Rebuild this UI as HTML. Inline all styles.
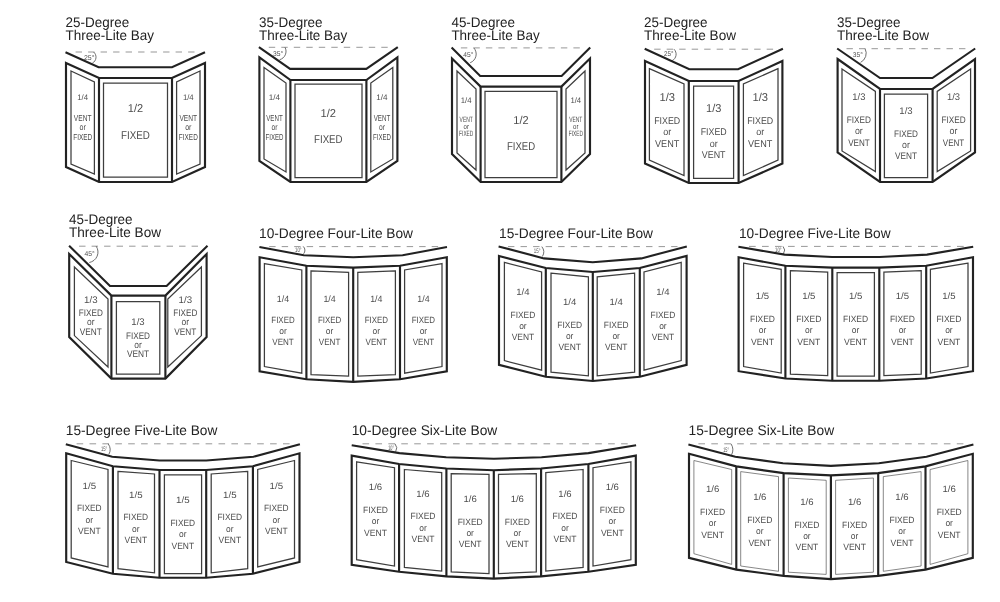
<!DOCTYPE html>
<html lang="en"><head><meta charset="utf-8"><title>Bay and Bow Window Configurations</title>
<style>
html,body{margin:0;padding:0;background:#fff;}
body{width:1000px;height:602px;overflow:hidden;}
svg{display:block;will-change:transform;text-rendering:geometricPrecision;font-family:"Liberation Sans",Arial,Helvetica,sans-serif;}
</style></head><body>
<svg width="1000" height="602" viewBox="0 0 1000 602">
<rect width="1000" height="602" fill="#ffffff"/>
<text x="65.6" y="26.5" font-size="14" fill="#222" textLength="63.6" lengthAdjust="spacingAndGlyphs">25-Degree</text>
<text x="65.6" y="39.8" font-size="14" fill="#222" textLength="88.3" lengthAdjust="spacingAndGlyphs">Three-Lite Bay</text>
<line x1="75.6" y1="52.0" x2="194.5" y2="52.0" stroke="#858585" stroke-width="0.85" stroke-dasharray="6.4 6.10"/>
<path d="M93.6,52 A6.7,6.7 0 0 1 92.4,63.1" fill="none" stroke="#555" stroke-width="0.85"/>
<text x="84.0" y="59.5" font-size="7" text-anchor="start" fill="#505050" textLength="10.5" lengthAdjust="spacingAndGlyphs">25°</text>
<polyline points="65.5,52.2 98.6,67.2 172.0,67.2 205.0,52.2" fill="none" stroke="#222222" stroke-width="2.1" stroke-linejoin="miter"/>
<polygon points="66.0,63.0 99.0,78.0 172.0,78.0 205.0,63.0 205.0,167.0 172.0,182.0 99.0,182.0 66.0,167.0" fill="none" stroke="#222222" stroke-width="2.15" stroke-linejoin="miter"/>
<line x1="99.0" y1="78.0" x2="99.0" y2="182.0" stroke="#222222" stroke-width="2.15" />
<line x1="172.0" y1="78.0" x2="172.0" y2="182.0" stroke="#222222" stroke-width="2.15" />
<polygon points="71.0,71.0 94.4,82.0 94.4,174.0 71.0,164.0" fill="none" stroke="#3e3e3e" stroke-width="1.25" stroke-linejoin="miter"/>
<polygon points="103.5,83.2 167.5,83.2 167.5,177.0 103.5,177.0" fill="none" stroke="#3e3e3e" stroke-width="1.25" stroke-linejoin="miter"/>
<polygon points="200.0,71.0 176.6,82.0 176.6,174.0 200.0,164.0" fill="none" stroke="#3e3e3e" stroke-width="1.25" stroke-linejoin="miter"/>
<text x="135.5" y="112.0" font-size="11.45" text-anchor="middle" fill="#4c4c4c" textLength="15.3" lengthAdjust="spacingAndGlyphs">1/2</text>
<text x="135.5" y="139.0" font-size="11.45" text-anchor="middle" fill="#4c4c4c" textLength="28.8" lengthAdjust="spacingAndGlyphs">FIXED</text>
<text x="82.7" y="100.0" font-size="7.96" text-anchor="middle" fill="#4c4c4c" textLength="10.8" lengthAdjust="spacingAndGlyphs">1/4</text>
<text x="82.7" y="121.0" font-size="8.72" text-anchor="middle" fill="#4c4c4c" textLength="17.7" lengthAdjust="spacingAndGlyphs">VENT</text>
<text x="82.7" y="130.0" font-size="8.72" text-anchor="middle" fill="#4c4c4c" textLength="6.3" lengthAdjust="spacingAndGlyphs">or</text>
<text x="82.7" y="140.0" font-size="8.72" text-anchor="middle" fill="#4c4c4c" textLength="19.0" lengthAdjust="spacingAndGlyphs">FIXED</text>
<text x="188.3" y="100.0" font-size="7.96" text-anchor="middle" fill="#4c4c4c" textLength="10.8" lengthAdjust="spacingAndGlyphs">1/4</text>
<text x="188.3" y="121.0" font-size="8.72" text-anchor="middle" fill="#4c4c4c" textLength="17.7" lengthAdjust="spacingAndGlyphs">VENT</text>
<text x="188.3" y="130.0" font-size="8.72" text-anchor="middle" fill="#4c4c4c" textLength="6.3" lengthAdjust="spacingAndGlyphs">or</text>
<text x="188.3" y="140.0" font-size="8.72" text-anchor="middle" fill="#4c4c4c" textLength="19.0" lengthAdjust="spacingAndGlyphs">FIXED</text>
<text x="259.0" y="26.5" font-size="14" fill="#222" textLength="63.6" lengthAdjust="spacingAndGlyphs">35-Degree</text>
<text x="259.0" y="39.8" font-size="14" fill="#222" textLength="88.3" lengthAdjust="spacingAndGlyphs">Three-Lite Bay</text>
<line x1="268.8" y1="47.3" x2="387.7" y2="47.3" stroke="#858585" stroke-width="0.85" stroke-dasharray="6.4 6.10"/>
<path d="M285,47.3 A8.6,8.6 0 0 1 279.6,59.7" fill="none" stroke="#555" stroke-width="0.85"/>
<text x="273.0" y="55.5" font-size="7" text-anchor="start" fill="#505050" textLength="10.2" lengthAdjust="spacingAndGlyphs">35°</text>
<polyline points="258.9,47.1 290.1,68.9 366.3,68.9 397.8,47.1" fill="none" stroke="#222222" stroke-width="2.1" stroke-linejoin="miter"/>
<polygon points="259.4,57.4 290.4,80.0 366.4,80.0 397.4,57.4 397.4,161.0 366.4,182.0 290.4,182.0 259.4,161.0" fill="none" stroke="#222222" stroke-width="2.15" stroke-linejoin="miter"/>
<line x1="290.4" y1="80.0" x2="290.4" y2="182.0" stroke="#222222" stroke-width="2.15" />
<line x1="366.4" y1="80.0" x2="366.4" y2="182.0" stroke="#222222" stroke-width="2.15" />
<polygon points="264.0,67.4 286.0,83.0 286.0,172.0 264.0,159.0" fill="none" stroke="#3e3e3e" stroke-width="1.25" stroke-linejoin="miter"/>
<polygon points="295.0,84.0 362.0,84.0 362.0,177.6 295.0,177.6" fill="none" stroke="#3e3e3e" stroke-width="1.25" stroke-linejoin="miter"/>
<polygon points="392.8,67.4 370.8,83.0 370.8,172.0 392.8,159.0" fill="none" stroke="#3e3e3e" stroke-width="1.25" stroke-linejoin="miter"/>
<text x="328.3" y="117.0" font-size="11.45" text-anchor="middle" fill="#4c4c4c" textLength="15.5" lengthAdjust="spacingAndGlyphs">1/2</text>
<text x="328.3" y="143.0" font-size="11.45" text-anchor="middle" fill="#4c4c4c" textLength="28.5" lengthAdjust="spacingAndGlyphs">FIXED</text>
<text x="274.5" y="100.0" font-size="7.96" text-anchor="middle" fill="#4c4c4c" textLength="11.3" lengthAdjust="spacingAndGlyphs">1/4</text>
<text x="274.5" y="121.0" font-size="8.72" text-anchor="middle" fill="#4c4c4c" textLength="16.5" lengthAdjust="spacingAndGlyphs">VENT</text>
<text x="274.5" y="130.0" font-size="8.72" text-anchor="middle" fill="#4c4c4c" textLength="6.0" lengthAdjust="spacingAndGlyphs">or</text>
<text x="274.5" y="140.0" font-size="8.72" text-anchor="middle" fill="#4c4c4c" textLength="18.0" lengthAdjust="spacingAndGlyphs">FIXED</text>
<text x="382.0" y="100.0" font-size="7.96" text-anchor="middle" fill="#4c4c4c" textLength="11.3" lengthAdjust="spacingAndGlyphs">1/4</text>
<text x="382.0" y="121.0" font-size="8.72" text-anchor="middle" fill="#4c4c4c" textLength="16.5" lengthAdjust="spacingAndGlyphs">VENT</text>
<text x="382.0" y="130.0" font-size="8.72" text-anchor="middle" fill="#4c4c4c" textLength="6.0" lengthAdjust="spacingAndGlyphs">or</text>
<text x="382.0" y="140.0" font-size="8.72" text-anchor="middle" fill="#4c4c4c" textLength="18.0" lengthAdjust="spacingAndGlyphs">FIXED</text>
<text x="451.4" y="26.5" font-size="14" fill="#222" textLength="63.6" lengthAdjust="spacingAndGlyphs">45-Degree</text>
<text x="451.4" y="39.8" font-size="14" fill="#222" textLength="88.3" lengthAdjust="spacingAndGlyphs">Three-Lite Bay</text>
<line x1="460.9" y1="47.9" x2="579.8" y2="47.9" stroke="#858585" stroke-width="0.85" stroke-dasharray="6.4 6.10"/>
<path d="M473.8,47.9 A9.2,9.2 0 0 1 470.2,62.7" fill="none" stroke="#555" stroke-width="0.85"/>
<text x="463.3" y="56.7" font-size="7" text-anchor="start" fill="#505050" textLength="10.0" lengthAdjust="spacingAndGlyphs">45°</text>
<polyline points="451.6,47.4 480.2,76.0 561.6,76.0 590.2,47.4" fill="none" stroke="#222222" stroke-width="2.1" stroke-linejoin="miter"/>
<polygon points="452.0,58.6 480.6,86.6 561.4,86.6 590.0,58.6 590.0,154.0 561.4,182.0 480.6,182.0 452.0,154.0" fill="none" stroke="#222222" stroke-width="2.15" stroke-linejoin="miter"/>
<line x1="480.6" y1="86.6" x2="480.6" y2="182.0" stroke="#222222" stroke-width="2.15" />
<line x1="561.4" y1="86.6" x2="561.4" y2="182.0" stroke="#222222" stroke-width="2.15" />
<polygon points="457.0,71.0 476.0,89.0 476.0,170.0 457.0,153.0" fill="none" stroke="#3e3e3e" stroke-width="1.25" stroke-linejoin="miter"/>
<polygon points="485.0,91.4 557.0,91.4 557.0,177.6 485.0,177.6" fill="none" stroke="#3e3e3e" stroke-width="1.25" stroke-linejoin="miter"/>
<polygon points="585.0,71.0 566.0,89.0 566.0,170.0 585.0,153.0" fill="none" stroke="#3e3e3e" stroke-width="1.25" stroke-linejoin="miter"/>
<text x="521.0" y="124.0" font-size="11.45" text-anchor="middle" fill="#4c4c4c" textLength="15.3" lengthAdjust="spacingAndGlyphs">1/2</text>
<text x="521.0" y="150.0" font-size="11.45" text-anchor="middle" fill="#4c4c4c" textLength="28.2" lengthAdjust="spacingAndGlyphs">FIXED</text>
<text x="466.2" y="103.0" font-size="7.96" text-anchor="middle" fill="#4c4c4c" textLength="10.8" lengthAdjust="spacingAndGlyphs">1/4</text>
<text x="466.2" y="122.0" font-size="7.63" text-anchor="middle" fill="#4c4c4c" textLength="13.2" lengthAdjust="spacingAndGlyphs">VENT</text>
<text x="466.2" y="129.0" font-size="7.63" text-anchor="middle" fill="#4c4c4c" textLength="5.4" lengthAdjust="spacingAndGlyphs">or</text>
<text x="466.2" y="136.0" font-size="7.63" text-anchor="middle" fill="#4c4c4c" textLength="14.2" lengthAdjust="spacingAndGlyphs">FIXED</text>
<text x="575.8" y="103.0" font-size="7.96" text-anchor="middle" fill="#4c4c4c" textLength="10.8" lengthAdjust="spacingAndGlyphs">1/4</text>
<text x="575.8" y="122.0" font-size="7.63" text-anchor="middle" fill="#4c4c4c" textLength="13.2" lengthAdjust="spacingAndGlyphs">VENT</text>
<text x="575.8" y="129.0" font-size="7.63" text-anchor="middle" fill="#4c4c4c" textLength="5.4" lengthAdjust="spacingAndGlyphs">or</text>
<text x="575.8" y="136.0" font-size="7.63" text-anchor="middle" fill="#4c4c4c" textLength="14.2" lengthAdjust="spacingAndGlyphs">FIXED</text>
<text x="644.0" y="26.5" font-size="14" fill="#222" textLength="63.6" lengthAdjust="spacingAndGlyphs">25-Degree</text>
<text x="644.0" y="39.8" font-size="14" fill="#222" textLength="92.0" lengthAdjust="spacingAndGlyphs">Three-Lite Bow</text>
<line x1="654.2" y1="49.2" x2="773.1" y2="49.2" stroke="#858585" stroke-width="0.85" stroke-dasharray="6.4 6.10"/>
<path d="M674,49.2 A7.1,7.1 0 0 1 672.2,60.6" fill="none" stroke="#555" stroke-width="0.85"/>
<text x="664.1" y="56.4" font-size="7" text-anchor="start" fill="#505050" textLength="9.5" lengthAdjust="spacingAndGlyphs">25°</text>
<polyline points="644.7,48.7 689.3,69.3 738.1,69.3 782.9,48.7" fill="none" stroke="#222222" stroke-width="2.1" stroke-linejoin="miter"/>
<polygon points="645.0,61.0 688.8,81.0 738.6,81.0 782.4,61.0 782.4,163.6 738.6,183.0 688.8,183.0 645.0,163.6" fill="none" stroke="#222222" stroke-width="2.15" stroke-linejoin="miter"/>
<line x1="688.8" y1="81.0" x2="688.8" y2="183.0" stroke="#222222" stroke-width="2.15" />
<line x1="738.6" y1="81.0" x2="738.6" y2="183.0" stroke="#222222" stroke-width="2.15" />
<polygon points="649.4,68.6 684.0,84.0 684.0,175.6 649.4,160.0" fill="none" stroke="#3e3e3e" stroke-width="1.25" stroke-linejoin="miter"/>
<polygon points="693.6,86.0 733.6,86.0 733.6,178.4 693.6,178.4" fill="none" stroke="#3e3e3e" stroke-width="1.25" stroke-linejoin="miter"/>
<polygon points="778.0,68.6 743.4,84.0 743.4,175.6 778.0,160.0" fill="none" stroke="#3e3e3e" stroke-width="1.25" stroke-linejoin="miter"/>
<text x="713.7" y="112.0" font-size="11.45" text-anchor="middle" fill="#4c4c4c" textLength="15.3" lengthAdjust="spacingAndGlyphs">1/3</text>
<text x="713.7" y="135.0" font-size="9.81" text-anchor="middle" fill="#4c4c4c" textLength="26.0" lengthAdjust="spacingAndGlyphs">FIXED</text>
<text x="713.7" y="147.0" font-size="9.81" text-anchor="middle" fill="#4c4c4c" textLength="8.0" lengthAdjust="spacingAndGlyphs">or</text>
<text x="713.7" y="158.0" font-size="9.81" text-anchor="middle" fill="#4c4c4c" textLength="23.7" lengthAdjust="spacingAndGlyphs">VENT</text>
<text x="667.2" y="101.0" font-size="11.45" text-anchor="middle" fill="#4c4c4c" textLength="15.5" lengthAdjust="spacingAndGlyphs">1/3</text>
<text x="667.2" y="124.0" font-size="9.81" text-anchor="middle" fill="#4c4c4c" textLength="26.0" lengthAdjust="spacingAndGlyphs">FIXED</text>
<text x="667.2" y="135.0" font-size="9.81" text-anchor="middle" fill="#4c4c4c" textLength="8.0" lengthAdjust="spacingAndGlyphs">or</text>
<text x="667.2" y="147.0" font-size="9.81" text-anchor="middle" fill="#4c4c4c" textLength="24.3" lengthAdjust="spacingAndGlyphs">VENT</text>
<text x="760.2" y="101.0" font-size="11.45" text-anchor="middle" fill="#4c4c4c" textLength="15.5" lengthAdjust="spacingAndGlyphs">1/3</text>
<text x="760.2" y="124.0" font-size="9.81" text-anchor="middle" fill="#4c4c4c" textLength="26.0" lengthAdjust="spacingAndGlyphs">FIXED</text>
<text x="760.2" y="135.0" font-size="9.81" text-anchor="middle" fill="#4c4c4c" textLength="8.0" lengthAdjust="spacingAndGlyphs">or</text>
<text x="760.2" y="147.0" font-size="9.81" text-anchor="middle" fill="#4c4c4c" textLength="24.3" lengthAdjust="spacingAndGlyphs">VENT</text>
<text x="837.0" y="26.5" font-size="14" fill="#222" textLength="63.6" lengthAdjust="spacingAndGlyphs">35-Degree</text>
<text x="837.0" y="39.8" font-size="14" fill="#222" textLength="92.0" lengthAdjust="spacingAndGlyphs">Three-Lite Bow</text>
<line x1="846.5" y1="48.7" x2="965.4" y2="48.7" stroke="#858585" stroke-width="0.85" stroke-dasharray="6.4 6.10"/>
<path d="M865.1,48.7 A10.2,10.2 0 0 1 860.6,62.4" fill="none" stroke="#555" stroke-width="0.85"/>
<text x="852.8" y="57.3" font-size="7" text-anchor="start" fill="#505050" textLength="10.0" lengthAdjust="spacingAndGlyphs">35°</text>
<polyline points="837.2,48.5 880.0,78.0 932.4,78.0 975.2,48.5" fill="none" stroke="#222222" stroke-width="2.1" stroke-linejoin="miter"/>
<polygon points="837.6,59.0 880.0,89.0 932.6,89.0 975.0,59.0 975.0,152.4 932.6,182.0 880.0,182.0 837.6,152.4" fill="none" stroke="#222222" stroke-width="2.15" stroke-linejoin="miter"/>
<line x1="880.0" y1="89.0" x2="880.0" y2="182.0" stroke="#222222" stroke-width="2.15" />
<line x1="932.6" y1="89.0" x2="932.6" y2="182.0" stroke="#222222" stroke-width="2.15" />
<polygon points="842.0,69.0 875.4,91.4 875.4,171.6 842.0,151.0" fill="none" stroke="#3e3e3e" stroke-width="1.25" stroke-linejoin="miter"/>
<polygon points="884.4,94.0 927.6,94.0 927.6,177.6 884.4,177.6" fill="none" stroke="#3e3e3e" stroke-width="1.25" stroke-linejoin="miter"/>
<polygon points="970.6,69.0 937.2,91.4 937.2,171.6 970.6,151.0" fill="none" stroke="#3e3e3e" stroke-width="1.25" stroke-linejoin="miter"/>
<text x="906.0" y="114.0" font-size="9.59" text-anchor="middle" fill="#4c4c4c" textLength="13.3" lengthAdjust="spacingAndGlyphs">1/3</text>
<text x="906.0" y="137.0" font-size="9.59" text-anchor="middle" fill="#4c4c4c" textLength="24.0" lengthAdjust="spacingAndGlyphs">FIXED</text>
<text x="906.0" y="148.0" font-size="9.59" text-anchor="middle" fill="#4c4c4c" textLength="7.8" lengthAdjust="spacingAndGlyphs">or</text>
<text x="906.0" y="159.0" font-size="9.59" text-anchor="middle" fill="#4c4c4c" textLength="22.0" lengthAdjust="spacingAndGlyphs">VENT</text>
<text x="858.9" y="100.0" font-size="9.59" text-anchor="middle" fill="#4c4c4c" textLength="13.1" lengthAdjust="spacingAndGlyphs">1/3</text>
<text x="858.9" y="123.0" font-size="9.59" text-anchor="middle" fill="#4c4c4c" textLength="24.2" lengthAdjust="spacingAndGlyphs">FIXED</text>
<text x="858.9" y="134.0" font-size="9.59" text-anchor="middle" fill="#4c4c4c" textLength="7.8" lengthAdjust="spacingAndGlyphs">or</text>
<text x="858.9" y="146.0" font-size="9.59" text-anchor="middle" fill="#4c4c4c" textLength="21.5" lengthAdjust="spacingAndGlyphs">VENT</text>
<text x="953.5" y="100.0" font-size="9.59" text-anchor="middle" fill="#4c4c4c" textLength="13.1" lengthAdjust="spacingAndGlyphs">1/3</text>
<text x="953.5" y="123.0" font-size="9.59" text-anchor="middle" fill="#4c4c4c" textLength="24.2" lengthAdjust="spacingAndGlyphs">FIXED</text>
<text x="953.5" y="134.0" font-size="9.59" text-anchor="middle" fill="#4c4c4c" textLength="7.8" lengthAdjust="spacingAndGlyphs">or</text>
<text x="953.5" y="146.0" font-size="9.59" text-anchor="middle" fill="#4c4c4c" textLength="21.5" lengthAdjust="spacingAndGlyphs">VENT</text>
<text x="69.0" y="223.6" font-size="14" fill="#222" textLength="63.6" lengthAdjust="spacingAndGlyphs">45-Degree</text>
<text x="69.0" y="236.9" font-size="14" fill="#222" textLength="92.0" lengthAdjust="spacingAndGlyphs">Three-Lite Bow</text>
<line x1="79.1" y1="246.2" x2="198.0" y2="246.2" stroke="#858585" stroke-width="0.85" stroke-dasharray="6.4 6.10"/>
<path d="M96.2,246.2 A10.6,10.6 0 0 1 89.3,262.5" fill="none" stroke="#555" stroke-width="0.85"/>
<text x="84.5" y="256.2" font-size="7" text-anchor="start" fill="#505050" textLength="10.2" lengthAdjust="spacingAndGlyphs">45°</text>
<polyline points="69.1,245.7 110.0,286.0 166.6,286.0 207.5,245.7" fill="none" stroke="#222222" stroke-width="2.1" stroke-linejoin="miter"/>
<polygon points="69.2,254.0 111.4,295.6 165.4,295.6 206.6,254.0 206.6,337.0 165.4,378.6 111.4,378.6 69.2,337.0" fill="none" stroke="#222222" stroke-width="2.15" stroke-linejoin="miter"/>
<line x1="111.4" y1="295.6" x2="111.4" y2="378.6" stroke="#222222" stroke-width="2.15" />
<line x1="165.4" y1="295.6" x2="165.4" y2="378.6" stroke="#222222" stroke-width="2.15" />
<polygon points="74.4,267.0 108.0,299.0 108.0,367.0 74.4,335.6" fill="none" stroke="#3e3e3e" stroke-width="1.25" stroke-linejoin="miter"/>
<polygon points="116.4,301.6 159.8,301.6 159.8,374.0 116.4,374.0" fill="none" stroke="#3e3e3e" stroke-width="1.25" stroke-linejoin="miter"/>
<polygon points="201.4,267.0 167.8,299.0 167.8,367.0 201.4,335.6" fill="none" stroke="#3e3e3e" stroke-width="1.25" stroke-linejoin="miter"/>
<text x="138.0" y="325.0" font-size="9.59" text-anchor="middle" fill="#4c4c4c" textLength="13.3" lengthAdjust="spacingAndGlyphs">1/3</text>
<text x="138.0" y="339.0" font-size="9.59" text-anchor="middle" fill="#4c4c4c" textLength="24.0" lengthAdjust="spacingAndGlyphs">FIXED</text>
<text x="138.0" y="348.0" font-size="9.59" text-anchor="middle" fill="#4c4c4c" textLength="7.5" lengthAdjust="spacingAndGlyphs">or</text>
<text x="138.0" y="357.0" font-size="9.59" text-anchor="middle" fill="#4c4c4c" textLength="22.2" lengthAdjust="spacingAndGlyphs">VENT</text>
<text x="90.8" y="303.0" font-size="9.59" text-anchor="middle" fill="#4c4c4c" textLength="13.5" lengthAdjust="spacingAndGlyphs">1/3</text>
<text x="90.8" y="316.0" font-size="9.59" text-anchor="middle" fill="#4c4c4c" textLength="24.0" lengthAdjust="spacingAndGlyphs">FIXED</text>
<text x="90.8" y="325.0" font-size="9.59" text-anchor="middle" fill="#4c4c4c" textLength="7.5" lengthAdjust="spacingAndGlyphs">or</text>
<text x="90.8" y="335.0" font-size="9.59" text-anchor="middle" fill="#4c4c4c" textLength="22.0" lengthAdjust="spacingAndGlyphs">VENT</text>
<text x="185.3" y="303.0" font-size="9.59" text-anchor="middle" fill="#4c4c4c" textLength="13.5" lengthAdjust="spacingAndGlyphs">1/3</text>
<text x="185.3" y="316.0" font-size="9.59" text-anchor="middle" fill="#4c4c4c" textLength="24.0" lengthAdjust="spacingAndGlyphs">FIXED</text>
<text x="185.3" y="325.0" font-size="9.59" text-anchor="middle" fill="#4c4c4c" textLength="7.5" lengthAdjust="spacingAndGlyphs">or</text>
<text x="185.3" y="335.0" font-size="9.59" text-anchor="middle" fill="#4c4c4c" textLength="22.0" lengthAdjust="spacingAndGlyphs">VENT</text>
<text x="259.0" y="237.5" font-size="14" fill="#222" textLength="154.0" lengthAdjust="spacingAndGlyphs">10-Degree Four-Lite Bow</text>
<line x1="269.2" y1="246.6" x2="438.1" y2="246.6" stroke="#858585" stroke-width="0.85" stroke-dasharray="6.4 6.10"/>
<path d="M303.2,246.4 A5.3,5.3 0 0 1 303.6,253.8" fill="none" stroke="#555" stroke-width="0.85"/>
<text x="295.0" y="251.8" font-size="6.5" text-anchor="start" fill="#505050" textLength="6.6" lengthAdjust="spacingAndGlyphs">10°</text>
<polyline points="259.4,247.0 303.8,255.2 353.2,257.2 402.6,255.2 447.0,247.0" fill="none" stroke="#222222" stroke-width="2.1" stroke-linejoin="miter"/>
<polygon points="259.6,257.2 306.4,265.8 353.2,267.6 400.0,265.8 446.8,257.2 446.8,371.4 400.0,379.2 353.2,381.8 306.4,379.2 259.6,371.4" fill="none" stroke="#222222" stroke-width="2.15" stroke-linejoin="miter"/>
<line x1="306.4" y1="265.8" x2="306.4" y2="379.2" stroke="#222222" stroke-width="2.15" />
<line x1="353.2" y1="267.6" x2="353.2" y2="381.8" stroke="#222222" stroke-width="2.15" />
<line x1="400.0" y1="265.8" x2="400.0" y2="379.2" stroke="#222222" stroke-width="2.15" />
<polygon points="264.4,263.6 301.8,270.0 301.8,373.2 264.4,366.6" fill="none" stroke="#3e3e3e" stroke-width="1.25" stroke-linejoin="miter"/>
<polygon points="311.0,270.8 348.6,272.4 348.6,376.2 311.0,374.6" fill="none" stroke="#3e3e3e" stroke-width="1.25" stroke-linejoin="miter"/>
<polygon points="395.4,270.8 357.8,272.4 357.8,376.2 395.4,374.6" fill="none" stroke="#3e3e3e" stroke-width="1.25" stroke-linejoin="miter"/>
<polygon points="442.0,263.6 404.6,270.0 404.6,373.2 442.0,366.6" fill="none" stroke="#3e3e3e" stroke-width="1.25" stroke-linejoin="miter"/>
<text x="283.0" y="302.0" font-size="9.16" text-anchor="middle" fill="#4c4c4c" textLength="12.3" lengthAdjust="spacingAndGlyphs">1/4</text>
<text x="283.0" y="323.0" font-size="9.16" text-anchor="middle" fill="#4c4c4c" textLength="23.3" lengthAdjust="spacingAndGlyphs">FIXED</text>
<text x="283.0" y="334.0" font-size="9.16" text-anchor="middle" fill="#4c4c4c" textLength="7.5" lengthAdjust="spacingAndGlyphs">or</text>
<text x="283.0" y="345.0" font-size="9.16" text-anchor="middle" fill="#4c4c4c" textLength="21.5" lengthAdjust="spacingAndGlyphs">VENT</text>
<text x="329.6" y="302.0" font-size="9.16" text-anchor="middle" fill="#4c4c4c" textLength="12.3" lengthAdjust="spacingAndGlyphs">1/4</text>
<text x="329.6" y="323.0" font-size="9.16" text-anchor="middle" fill="#4c4c4c" textLength="23.3" lengthAdjust="spacingAndGlyphs">FIXED</text>
<text x="329.6" y="334.0" font-size="9.16" text-anchor="middle" fill="#4c4c4c" textLength="7.5" lengthAdjust="spacingAndGlyphs">or</text>
<text x="329.6" y="345.0" font-size="9.16" text-anchor="middle" fill="#4c4c4c" textLength="21.5" lengthAdjust="spacingAndGlyphs">VENT</text>
<text x="376.3" y="302.0" font-size="9.16" text-anchor="middle" fill="#4c4c4c" textLength="12.3" lengthAdjust="spacingAndGlyphs">1/4</text>
<text x="376.3" y="323.0" font-size="9.16" text-anchor="middle" fill="#4c4c4c" textLength="23.3" lengthAdjust="spacingAndGlyphs">FIXED</text>
<text x="376.3" y="334.0" font-size="9.16" text-anchor="middle" fill="#4c4c4c" textLength="7.5" lengthAdjust="spacingAndGlyphs">or</text>
<text x="376.3" y="345.0" font-size="9.16" text-anchor="middle" fill="#4c4c4c" textLength="21.5" lengthAdjust="spacingAndGlyphs">VENT</text>
<text x="423.4" y="302.0" font-size="9.16" text-anchor="middle" fill="#4c4c4c" textLength="12.3" lengthAdjust="spacingAndGlyphs">1/4</text>
<text x="423.4" y="323.0" font-size="9.16" text-anchor="middle" fill="#4c4c4c" textLength="23.3" lengthAdjust="spacingAndGlyphs">FIXED</text>
<text x="423.4" y="334.0" font-size="9.16" text-anchor="middle" fill="#4c4c4c" textLength="7.5" lengthAdjust="spacingAndGlyphs">or</text>
<text x="423.4" y="345.0" font-size="9.16" text-anchor="middle" fill="#4c4c4c" textLength="21.5" lengthAdjust="spacingAndGlyphs">VENT</text>
<text x="499.0" y="237.5" font-size="14" fill="#222" textLength="154.0" lengthAdjust="spacingAndGlyphs">15-Degree Four-Lite Bow</text>
<line x1="508.0" y1="246.6" x2="677.5" y2="246.6" stroke="#858585" stroke-width="0.85" stroke-dasharray="6.4 6.15"/>
<path d="M541.8,246.6 A8.7,8.7 0 0 1 542.4,256.5" fill="none" stroke="#555" stroke-width="0.85"/>
<text x="533.8" y="252.8" font-size="6.5" text-anchor="start" fill="#505050" textLength="6.6" lengthAdjust="spacingAndGlyphs">15°</text>
<polyline points="498.6,246.4 544.0,258.4 592.7,262.2 641.4,258.4 686.8,246.4" fill="none" stroke="#222222" stroke-width="2.1" stroke-linejoin="miter"/>
<polygon points="499.0,256.0 545.8,268.0 592.8,272.0 639.8,268.0 686.6,256.0 686.6,364.8 639.8,376.8 592.8,381.0 545.8,376.8 499.0,364.8" fill="none" stroke="#222222" stroke-width="2.15" stroke-linejoin="miter"/>
<line x1="545.8" y1="268.0" x2="545.8" y2="376.8" stroke="#222222" stroke-width="2.15" />
<line x1="592.8" y1="272.0" x2="592.8" y2="381.0" stroke="#222222" stroke-width="2.15" />
<line x1="639.8" y1="268.0" x2="639.8" y2="376.8" stroke="#222222" stroke-width="2.15" />
<polygon points="504.4,262.4 541.6,272.0 541.6,370.2 504.4,360.6" fill="none" stroke="#3e3e3e" stroke-width="1.25" stroke-linejoin="miter"/>
<polygon points="551.0,273.2 588.4,276.8 588.4,375.8 551.0,372.2" fill="none" stroke="#3e3e3e" stroke-width="1.25" stroke-linejoin="miter"/>
<polygon points="634.6,273.2 597.2,276.8 597.2,375.8 634.6,372.2" fill="none" stroke="#3e3e3e" stroke-width="1.25" stroke-linejoin="miter"/>
<polygon points="681.2,262.4 644.0,272.0 644.0,370.2 681.2,360.6" fill="none" stroke="#3e3e3e" stroke-width="1.25" stroke-linejoin="miter"/>
<text x="522.9" y="295.0" font-size="9.16" text-anchor="middle" fill="#4c4c4c" textLength="13.3" lengthAdjust="spacingAndGlyphs">1/4</text>
<text x="522.9" y="318.0" font-size="9.16" text-anchor="middle" fill="#4c4c4c" textLength="24.7" lengthAdjust="spacingAndGlyphs">FIXED</text>
<text x="522.9" y="329.0" font-size="9.16" text-anchor="middle" fill="#4c4c4c" textLength="7.5" lengthAdjust="spacingAndGlyphs">or</text>
<text x="522.9" y="340.0" font-size="9.16" text-anchor="middle" fill="#4c4c4c" textLength="22.5" lengthAdjust="spacingAndGlyphs">VENT</text>
<text x="569.7" y="305.0" font-size="9.16" text-anchor="middle" fill="#4c4c4c" textLength="13.3" lengthAdjust="spacingAndGlyphs">1/4</text>
<text x="569.7" y="328.0" font-size="9.16" text-anchor="middle" fill="#4c4c4c" textLength="24.7" lengthAdjust="spacingAndGlyphs">FIXED</text>
<text x="569.7" y="339.0" font-size="9.16" text-anchor="middle" fill="#4c4c4c" textLength="7.5" lengthAdjust="spacingAndGlyphs">or</text>
<text x="569.7" y="350.0" font-size="9.16" text-anchor="middle" fill="#4c4c4c" textLength="22.5" lengthAdjust="spacingAndGlyphs">VENT</text>
<text x="616.2" y="305.0" font-size="9.16" text-anchor="middle" fill="#4c4c4c" textLength="13.3" lengthAdjust="spacingAndGlyphs">1/4</text>
<text x="616.2" y="328.0" font-size="9.16" text-anchor="middle" fill="#4c4c4c" textLength="24.7" lengthAdjust="spacingAndGlyphs">FIXED</text>
<text x="616.2" y="339.0" font-size="9.16" text-anchor="middle" fill="#4c4c4c" textLength="7.5" lengthAdjust="spacingAndGlyphs">or</text>
<text x="616.2" y="350.0" font-size="9.16" text-anchor="middle" fill="#4c4c4c" textLength="22.5" lengthAdjust="spacingAndGlyphs">VENT</text>
<text x="662.9" y="295.0" font-size="9.16" text-anchor="middle" fill="#4c4c4c" textLength="13.3" lengthAdjust="spacingAndGlyphs">1/4</text>
<text x="662.9" y="318.0" font-size="9.16" text-anchor="middle" fill="#4c4c4c" textLength="24.7" lengthAdjust="spacingAndGlyphs">FIXED</text>
<text x="662.9" y="329.0" font-size="9.16" text-anchor="middle" fill="#4c4c4c" textLength="7.5" lengthAdjust="spacingAndGlyphs">or</text>
<text x="662.9" y="340.0" font-size="9.16" text-anchor="middle" fill="#4c4c4c" textLength="22.5" lengthAdjust="spacingAndGlyphs">VENT</text>
<text x="739.0" y="237.5" font-size="14" fill="#222" textLength="151.6" lengthAdjust="spacingAndGlyphs">10-Degree Five-Lite Bow</text>
<line x1="749.0" y1="246.4" x2="963.7" y2="246.4" stroke="#858585" stroke-width="0.85" stroke-dasharray="6.7 6.30"/>
<path d="M783,246.4 A5.9,5.9 0 0 1 783.4,253.8" fill="none" stroke="#555" stroke-width="0.85"/>
<text x="775.0" y="251.6" font-size="6.5" text-anchor="start" fill="#505050" textLength="6.6" lengthAdjust="spacingAndGlyphs">10°</text>
<polyline points="738.4,246.8 784.6,254.6 832.0,257.0 879.6,257.0 927.0,254.6 973.2,246.8" fill="none" stroke="#222222" stroke-width="2.1" stroke-linejoin="miter"/>
<polygon points="738.6,257.2 785.4,265.8 832.3,267.6 879.3,267.6 926.2,265.8 973.0,257.2 973.0,371.2 926.2,378.5 879.3,380.7 832.3,380.7 785.4,378.5 738.6,371.2" fill="none" stroke="#222222" stroke-width="2.15" stroke-linejoin="miter"/>
<line x1="785.4" y1="265.8" x2="785.4" y2="378.5" stroke="#222222" stroke-width="2.15" />
<line x1="832.3" y1="267.6" x2="832.3" y2="380.7" stroke="#222222" stroke-width="2.15" />
<line x1="879.3" y1="267.6" x2="879.3" y2="380.7" stroke="#222222" stroke-width="2.15" />
<line x1="926.2" y1="265.8" x2="926.2" y2="378.5" stroke="#222222" stroke-width="2.15" />
<polygon points="743.6,263.2 781.2,269.3 781.2,373.0 743.6,366.5" fill="none" stroke="#3e3e3e" stroke-width="1.25" stroke-linejoin="miter"/>
<polygon points="790.4,270.6 827.7,272.2 827.7,375.6 790.4,374.2" fill="none" stroke="#3e3e3e" stroke-width="1.25" stroke-linejoin="miter"/>
<polygon points="837.1,272.5 874.4,272.5 874.4,376.1 837.1,376.1" fill="none" stroke="#3e3e3e" stroke-width="1.25" stroke-linejoin="miter"/>
<polygon points="921.2,270.6 883.9,272.2 883.9,375.6 921.2,374.2" fill="none" stroke="#3e3e3e" stroke-width="1.25" stroke-linejoin="miter"/>
<polygon points="968.0,263.2 930.4,269.3 930.4,373.0 968.0,366.5" fill="none" stroke="#3e3e3e" stroke-width="1.25" stroke-linejoin="miter"/>
<text x="762.5" y="299.0" font-size="9.16" text-anchor="middle" fill="#4c4c4c" textLength="13.3" lengthAdjust="spacingAndGlyphs">1/5</text>
<text x="762.5" y="322.0" font-size="9.16" text-anchor="middle" fill="#4c4c4c" textLength="25.0" lengthAdjust="spacingAndGlyphs">FIXED</text>
<text x="762.5" y="333.0" font-size="9.16" text-anchor="middle" fill="#4c4c4c" textLength="7.5" lengthAdjust="spacingAndGlyphs">or</text>
<text x="762.5" y="345.0" font-size="9.16" text-anchor="middle" fill="#4c4c4c" textLength="23.0" lengthAdjust="spacingAndGlyphs">VENT</text>
<text x="808.8" y="299.0" font-size="9.16" text-anchor="middle" fill="#4c4c4c" textLength="13.3" lengthAdjust="spacingAndGlyphs">1/5</text>
<text x="808.8" y="322.0" font-size="9.16" text-anchor="middle" fill="#4c4c4c" textLength="25.0" lengthAdjust="spacingAndGlyphs">FIXED</text>
<text x="808.8" y="333.0" font-size="9.16" text-anchor="middle" fill="#4c4c4c" textLength="7.5" lengthAdjust="spacingAndGlyphs">or</text>
<text x="808.8" y="345.0" font-size="9.16" text-anchor="middle" fill="#4c4c4c" textLength="23.0" lengthAdjust="spacingAndGlyphs">VENT</text>
<text x="855.6" y="299.0" font-size="9.16" text-anchor="middle" fill="#4c4c4c" textLength="13.3" lengthAdjust="spacingAndGlyphs">1/5</text>
<text x="855.6" y="322.0" font-size="9.16" text-anchor="middle" fill="#4c4c4c" textLength="25.0" lengthAdjust="spacingAndGlyphs">FIXED</text>
<text x="855.6" y="333.0" font-size="9.16" text-anchor="middle" fill="#4c4c4c" textLength="7.5" lengthAdjust="spacingAndGlyphs">or</text>
<text x="855.6" y="345.0" font-size="9.16" text-anchor="middle" fill="#4c4c4c" textLength="23.0" lengthAdjust="spacingAndGlyphs">VENT</text>
<text x="902.4" y="299.0" font-size="9.16" text-anchor="middle" fill="#4c4c4c" textLength="13.3" lengthAdjust="spacingAndGlyphs">1/5</text>
<text x="902.4" y="322.0" font-size="9.16" text-anchor="middle" fill="#4c4c4c" textLength="25.0" lengthAdjust="spacingAndGlyphs">FIXED</text>
<text x="902.4" y="333.0" font-size="9.16" text-anchor="middle" fill="#4c4c4c" textLength="7.5" lengthAdjust="spacingAndGlyphs">or</text>
<text x="902.4" y="345.0" font-size="9.16" text-anchor="middle" fill="#4c4c4c" textLength="23.0" lengthAdjust="spacingAndGlyphs">VENT</text>
<text x="948.9" y="299.0" font-size="9.16" text-anchor="middle" fill="#4c4c4c" textLength="13.3" lengthAdjust="spacingAndGlyphs">1/5</text>
<text x="948.9" y="322.0" font-size="9.16" text-anchor="middle" fill="#4c4c4c" textLength="25.0" lengthAdjust="spacingAndGlyphs">FIXED</text>
<text x="948.9" y="333.0" font-size="9.16" text-anchor="middle" fill="#4c4c4c" textLength="7.5" lengthAdjust="spacingAndGlyphs">or</text>
<text x="948.9" y="345.0" font-size="9.16" text-anchor="middle" fill="#4c4c4c" textLength="23.0" lengthAdjust="spacingAndGlyphs">VENT</text>
<text x="65.8" y="435.1" font-size="14" fill="#222" textLength="151.6" lengthAdjust="spacingAndGlyphs">15-Degree Five-Lite Bow</text>
<line x1="76.6" y1="443.8" x2="289.6" y2="443.8" stroke="#858585" stroke-width="0.85" stroke-dasharray="6.6 6.30"/>
<path d="M108.2,443.8 A10.0,10.0 0 0 1 108.8,454.5" fill="none" stroke="#555" stroke-width="0.85"/>
<text x="100.9" y="451.0" font-size="6.5" text-anchor="start" fill="#505050" textLength="6.3" lengthAdjust="spacingAndGlyphs">15°</text>
<polyline points="65.8,444.3 112.2,456.7 159.4,460.5 206.3,460.5 253.5,456.7 299.9,444.3" fill="none" stroke="#222222" stroke-width="2.1" stroke-linejoin="miter"/>
<polygon points="66.2,453.3 112.9,466.2 159.5,470.0 206.2,470.0 252.9,466.2 299.5,453.3 299.5,562.0 252.9,573.7 206.2,577.7 159.5,577.7 112.9,573.7 66.2,562.0" fill="none" stroke="#222222" stroke-width="2.15" stroke-linejoin="miter"/>
<line x1="112.9" y1="466.2" x2="112.9" y2="573.7" stroke="#222222" stroke-width="2.15" />
<line x1="159.5" y1="470.0" x2="159.5" y2="577.7" stroke="#222222" stroke-width="2.15" />
<line x1="206.2" y1="470.0" x2="206.2" y2="577.7" stroke="#222222" stroke-width="2.15" />
<line x1="252.9" y1="466.2" x2="252.9" y2="573.7" stroke="#222222" stroke-width="2.15" />
<polygon points="71.2,460.5 108.0,469.5 108.0,566.9 71.2,557.9" fill="none" stroke="#3e3e3e" stroke-width="1.25" stroke-linejoin="miter"/>
<polygon points="118.0,471.3 154.5,474.0 154.5,572.8 118.0,568.7" fill="none" stroke="#3e3e3e" stroke-width="1.25" stroke-linejoin="miter"/>
<polygon points="164.4,474.9 201.6,474.9 201.6,573.6 164.4,573.6" fill="none" stroke="#3e3e3e" stroke-width="1.25" stroke-linejoin="miter"/>
<polygon points="247.7,471.3 211.2,474.0 211.2,572.8 247.7,568.7" fill="none" stroke="#3e3e3e" stroke-width="1.25" stroke-linejoin="miter"/>
<polygon points="294.5,460.5 257.7,469.5 257.7,566.9 294.5,557.9" fill="none" stroke="#3e3e3e" stroke-width="1.25" stroke-linejoin="miter"/>
<text x="89.3" y="489.0" font-size="9.16" text-anchor="middle" fill="#4c4c4c" textLength="13.5" lengthAdjust="spacingAndGlyphs">1/5</text>
<text x="89.3" y="511.0" font-size="9.16" text-anchor="middle" fill="#4c4c4c" textLength="24.6" lengthAdjust="spacingAndGlyphs">FIXED</text>
<text x="89.3" y="523.0" font-size="9.16" text-anchor="middle" fill="#4c4c4c" textLength="7.5" lengthAdjust="spacingAndGlyphs">or</text>
<text x="89.3" y="534.0" font-size="9.16" text-anchor="middle" fill="#4c4c4c" textLength="22.5" lengthAdjust="spacingAndGlyphs">VENT</text>
<text x="135.8" y="498.0" font-size="9.16" text-anchor="middle" fill="#4c4c4c" textLength="13.5" lengthAdjust="spacingAndGlyphs">1/5</text>
<text x="135.8" y="520.0" font-size="9.16" text-anchor="middle" fill="#4c4c4c" textLength="24.6" lengthAdjust="spacingAndGlyphs">FIXED</text>
<text x="135.8" y="532.0" font-size="9.16" text-anchor="middle" fill="#4c4c4c" textLength="7.5" lengthAdjust="spacingAndGlyphs">or</text>
<text x="135.8" y="543.0" font-size="9.16" text-anchor="middle" fill="#4c4c4c" textLength="22.5" lengthAdjust="spacingAndGlyphs">VENT</text>
<text x="182.8" y="503.0" font-size="9.16" text-anchor="middle" fill="#4c4c4c" textLength="13.5" lengthAdjust="spacingAndGlyphs">1/5</text>
<text x="182.8" y="526.0" font-size="9.16" text-anchor="middle" fill="#4c4c4c" textLength="24.6" lengthAdjust="spacingAndGlyphs">FIXED</text>
<text x="182.8" y="537.0" font-size="9.16" text-anchor="middle" fill="#4c4c4c" textLength="7.5" lengthAdjust="spacingAndGlyphs">or</text>
<text x="182.8" y="549.0" font-size="9.16" text-anchor="middle" fill="#4c4c4c" textLength="22.5" lengthAdjust="spacingAndGlyphs">VENT</text>
<text x="229.8" y="498.0" font-size="9.16" text-anchor="middle" fill="#4c4c4c" textLength="13.5" lengthAdjust="spacingAndGlyphs">1/5</text>
<text x="229.8" y="520.0" font-size="9.16" text-anchor="middle" fill="#4c4c4c" textLength="24.6" lengthAdjust="spacingAndGlyphs">FIXED</text>
<text x="229.8" y="532.0" font-size="9.16" text-anchor="middle" fill="#4c4c4c" textLength="7.5" lengthAdjust="spacingAndGlyphs">or</text>
<text x="229.8" y="543.0" font-size="9.16" text-anchor="middle" fill="#4c4c4c" textLength="22.5" lengthAdjust="spacingAndGlyphs">VENT</text>
<text x="276.3" y="489.0" font-size="9.16" text-anchor="middle" fill="#4c4c4c" textLength="13.5" lengthAdjust="spacingAndGlyphs">1/5</text>
<text x="276.3" y="511.0" font-size="9.16" text-anchor="middle" fill="#4c4c4c" textLength="24.6" lengthAdjust="spacingAndGlyphs">FIXED</text>
<text x="276.3" y="523.0" font-size="9.16" text-anchor="middle" fill="#4c4c4c" textLength="7.5" lengthAdjust="spacingAndGlyphs">or</text>
<text x="276.3" y="534.0" font-size="9.16" text-anchor="middle" fill="#4c4c4c" textLength="22.5" lengthAdjust="spacingAndGlyphs">VENT</text>
<text x="351.7" y="435.1" font-size="14" fill="#222" textLength="145.6" lengthAdjust="spacingAndGlyphs">10-Degree Six-Lite Bow</text>
<line x1="362.5" y1="443.8" x2="627.7" y2="443.8" stroke="#858585" stroke-width="0.85" stroke-dasharray="6.6 6.33"/>
<path d="M395,443.8 A6.7,6.7 0 0 1 395.6,451.8" fill="none" stroke="#555" stroke-width="0.85"/>
<text x="388.2" y="449.9" font-size="6.5" text-anchor="start" fill="#505050" textLength="5.8" lengthAdjust="spacingAndGlyphs">10°</text>
<polyline points="351.7,445.2 399.4,453.1 446.2,457.2 493.9,458.7 541.5,457.2 588.4,453.1 636.1,445.2" fill="none" stroke="#222222" stroke-width="2.1" stroke-linejoin="miter"/>
<polygon points="351.7,455.6 399.1,464.0 446.4,468.5 493.8,470.2 541.1,468.5 588.4,464.0 635.8,455.6 635.8,564.7 588.4,571.8 541.1,576.4 493.8,578.6 446.4,576.4 399.1,571.8 351.7,564.7" fill="none" stroke="#222222" stroke-width="2.15" stroke-linejoin="miter"/>
<line x1="399.1" y1="464.0" x2="399.1" y2="571.8" stroke="#222222" stroke-width="2.15" />
<line x1="446.4" y1="468.5" x2="446.4" y2="576.4" stroke="#222222" stroke-width="2.15" />
<line x1="493.8" y1="470.2" x2="493.8" y2="578.6" stroke="#222222" stroke-width="2.15" />
<line x1="541.1" y1="468.5" x2="541.1" y2="576.4" stroke="#222222" stroke-width="2.15" />
<line x1="588.4" y1="464.0" x2="588.4" y2="571.8" stroke="#222222" stroke-width="2.15" />
<polygon points="356.6,461.8 394.5,467.7 394.5,566.0 356.6,559.7" fill="none" stroke="#3e3e3e" stroke-width="1.25" stroke-linejoin="miter"/>
<polygon points="404.4,469.5 441.7,472.6 441.7,571.0 404.4,567.4" fill="none" stroke="#3e3e3e" stroke-width="1.25" stroke-linejoin="miter"/>
<polygon points="451.2,473.6 489.0,474.4 489.0,573.6 451.2,571.8" fill="none" stroke="#3e3e3e" stroke-width="1.25" stroke-linejoin="miter"/>
<polygon points="536.3,473.6 498.5,474.4 498.5,573.6 536.3,571.8" fill="none" stroke="#3e3e3e" stroke-width="1.25" stroke-linejoin="miter"/>
<polygon points="583.1,469.5 545.8,472.6 545.8,571.0 583.1,567.4" fill="none" stroke="#3e3e3e" stroke-width="1.25" stroke-linejoin="miter"/>
<polygon points="630.9,461.8 593.0,467.7 593.0,566.0 630.9,559.7" fill="none" stroke="#3e3e3e" stroke-width="1.25" stroke-linejoin="miter"/>
<text x="375.5" y="490.0" font-size="9.16" text-anchor="middle" fill="#4c4c4c" textLength="13.3" lengthAdjust="spacingAndGlyphs">1/6</text>
<text x="375.5" y="513.0" font-size="9.16" text-anchor="middle" fill="#4c4c4c" textLength="25.0" lengthAdjust="spacingAndGlyphs">FIXED</text>
<text x="375.5" y="524.0" font-size="9.16" text-anchor="middle" fill="#4c4c4c" textLength="7.5" lengthAdjust="spacingAndGlyphs">or</text>
<text x="375.5" y="536.0" font-size="9.16" text-anchor="middle" fill="#4c4c4c" textLength="22.8" lengthAdjust="spacingAndGlyphs">VENT</text>
<text x="423.0" y="497.0" font-size="9.16" text-anchor="middle" fill="#4c4c4c" textLength="13.3" lengthAdjust="spacingAndGlyphs">1/6</text>
<text x="423.0" y="519.0" font-size="9.16" text-anchor="middle" fill="#4c4c4c" textLength="25.0" lengthAdjust="spacingAndGlyphs">FIXED</text>
<text x="423.0" y="531.0" font-size="9.16" text-anchor="middle" fill="#4c4c4c" textLength="7.5" lengthAdjust="spacingAndGlyphs">or</text>
<text x="423.0" y="542.0" font-size="9.16" text-anchor="middle" fill="#4c4c4c" textLength="22.8" lengthAdjust="spacingAndGlyphs">VENT</text>
<text x="470.2" y="502.0" font-size="9.16" text-anchor="middle" fill="#4c4c4c" textLength="13.3" lengthAdjust="spacingAndGlyphs">1/6</text>
<text x="470.2" y="525.0" font-size="9.16" text-anchor="middle" fill="#4c4c4c" textLength="25.0" lengthAdjust="spacingAndGlyphs">FIXED</text>
<text x="470.2" y="536.0" font-size="9.16" text-anchor="middle" fill="#4c4c4c" textLength="7.5" lengthAdjust="spacingAndGlyphs">or</text>
<text x="470.2" y="547.0" font-size="9.16" text-anchor="middle" fill="#4c4c4c" textLength="22.8" lengthAdjust="spacingAndGlyphs">VENT</text>
<text x="517.3" y="502.0" font-size="9.16" text-anchor="middle" fill="#4c4c4c" textLength="13.3" lengthAdjust="spacingAndGlyphs">1/6</text>
<text x="517.3" y="525.0" font-size="9.16" text-anchor="middle" fill="#4c4c4c" textLength="25.0" lengthAdjust="spacingAndGlyphs">FIXED</text>
<text x="517.3" y="536.0" font-size="9.16" text-anchor="middle" fill="#4c4c4c" textLength="7.5" lengthAdjust="spacingAndGlyphs">or</text>
<text x="517.3" y="547.0" font-size="9.16" text-anchor="middle" fill="#4c4c4c" textLength="22.8" lengthAdjust="spacingAndGlyphs">VENT</text>
<text x="565.0" y="497.0" font-size="9.16" text-anchor="middle" fill="#4c4c4c" textLength="13.3" lengthAdjust="spacingAndGlyphs">1/6</text>
<text x="565.0" y="519.0" font-size="9.16" text-anchor="middle" fill="#4c4c4c" textLength="25.0" lengthAdjust="spacingAndGlyphs">FIXED</text>
<text x="565.0" y="531.0" font-size="9.16" text-anchor="middle" fill="#4c4c4c" textLength="7.5" lengthAdjust="spacingAndGlyphs">or</text>
<text x="565.0" y="542.0" font-size="9.16" text-anchor="middle" fill="#4c4c4c" textLength="22.8" lengthAdjust="spacingAndGlyphs">VENT</text>
<text x="612.3" y="490.0" font-size="9.16" text-anchor="middle" fill="#4c4c4c" textLength="13.3" lengthAdjust="spacingAndGlyphs">1/6</text>
<text x="612.3" y="513.0" font-size="9.16" text-anchor="middle" fill="#4c4c4c" textLength="25.0" lengthAdjust="spacingAndGlyphs">FIXED</text>
<text x="612.3" y="524.0" font-size="9.16" text-anchor="middle" fill="#4c4c4c" textLength="7.5" lengthAdjust="spacingAndGlyphs">or</text>
<text x="612.3" y="536.0" font-size="9.16" text-anchor="middle" fill="#4c4c4c" textLength="22.8" lengthAdjust="spacingAndGlyphs">VENT</text>
<text x="688.5" y="435.1" font-size="14" fill="#222" textLength="145.6" lengthAdjust="spacingAndGlyphs">15-Degree Six-Lite Bow</text>
<line x1="698.4" y1="443.8" x2="963.4" y2="443.8" stroke="#858585" stroke-width="0.85" stroke-dasharray="6.6 6.32"/>
<path d="M731,443.8 A11.1,11.1 0 0 1 731.6,454.8" fill="none" stroke="#555" stroke-width="0.85"/>
<text x="723.2" y="451.5" font-size="6.5" text-anchor="start" fill="#505050" textLength="5.8" lengthAdjust="spacingAndGlyphs">15°</text>
<polyline points="688.4,444.6 735.3,456.8 783.0,463.2 830.9,465.9 878.8,463.2 926.5,456.8 973.4,444.6" fill="none" stroke="#222222" stroke-width="2.1" stroke-linejoin="miter"/>
<polygon points="689.0,453.8 736.3,466.4 783.6,473.1 830.9,475.4 878.2,473.1 925.5,466.4 972.8,453.8 972.8,557.9 925.5,569.6 878.2,575.9 830.9,579.1 783.6,575.9 736.3,569.6 689.0,557.9" fill="none" stroke="#222222" stroke-width="2.15" stroke-linejoin="miter"/>
<line x1="736.3" y1="466.4" x2="736.3" y2="569.6" stroke="#222222" stroke-width="2.15" />
<line x1="783.6" y1="473.1" x2="783.6" y2="575.9" stroke="#222222" stroke-width="2.15" />
<line x1="830.9" y1="475.4" x2="830.9" y2="579.1" stroke="#222222" stroke-width="2.15" />
<line x1="878.2" y1="473.1" x2="878.2" y2="575.9" stroke="#222222" stroke-width="2.15" />
<line x1="925.5" y1="466.4" x2="925.5" y2="569.6" stroke="#222222" stroke-width="2.15" />
<polygon points="693.9,460.5 731.7,469.5 731.7,564.4 693.9,553.7" fill="none" stroke="#555" stroke-width="0.7" stroke-linejoin="miter"/>
<polygon points="740.7,471.6 778.5,476.6 778.5,571.3 740.7,566.0" fill="none" stroke="#555" stroke-width="0.7" stroke-linejoin="miter"/>
<polygon points="788.4,478.0 826.2,480.3 826.2,574.4 788.4,572.2" fill="none" stroke="#555" stroke-width="0.7" stroke-linejoin="miter"/>
<polygon points="873.4,478.0 835.6,480.3 835.6,574.4 873.4,572.2" fill="none" stroke="#555" stroke-width="0.7" stroke-linejoin="miter"/>
<polygon points="921.1,471.6 883.3,476.6 883.3,571.3 921.1,566.0" fill="none" stroke="#555" stroke-width="0.7" stroke-linejoin="miter"/>
<polygon points="967.9,460.5 930.1,469.5 930.1,564.4 967.9,553.7" fill="none" stroke="#555" stroke-width="0.7" stroke-linejoin="miter"/>
<text x="712.6" y="492.0" font-size="9.16" text-anchor="middle" fill="#4c4c4c" textLength="13.3" lengthAdjust="spacingAndGlyphs">1/6</text>
<text x="712.6" y="515.0" font-size="9.16" text-anchor="middle" fill="#4c4c4c" textLength="25.0" lengthAdjust="spacingAndGlyphs">FIXED</text>
<text x="712.6" y="526.0" font-size="9.16" text-anchor="middle" fill="#4c4c4c" textLength="7.5" lengthAdjust="spacingAndGlyphs">or</text>
<text x="712.6" y="538.0" font-size="9.16" text-anchor="middle" fill="#4c4c4c" textLength="22.8" lengthAdjust="spacingAndGlyphs">VENT</text>
<text x="759.8" y="500.0" font-size="9.16" text-anchor="middle" fill="#4c4c4c" textLength="13.3" lengthAdjust="spacingAndGlyphs">1/6</text>
<text x="759.8" y="523.0" font-size="9.16" text-anchor="middle" fill="#4c4c4c" textLength="25.0" lengthAdjust="spacingAndGlyphs">FIXED</text>
<text x="759.8" y="534.0" font-size="9.16" text-anchor="middle" fill="#4c4c4c" textLength="7.5" lengthAdjust="spacingAndGlyphs">or</text>
<text x="759.8" y="546.0" font-size="9.16" text-anchor="middle" fill="#4c4c4c" textLength="22.8" lengthAdjust="spacingAndGlyphs">VENT</text>
<text x="806.9" y="505.0" font-size="9.16" text-anchor="middle" fill="#4c4c4c" textLength="13.3" lengthAdjust="spacingAndGlyphs">1/6</text>
<text x="806.9" y="528.0" font-size="9.16" text-anchor="middle" fill="#4c4c4c" textLength="25.0" lengthAdjust="spacingAndGlyphs">FIXED</text>
<text x="806.9" y="539.0" font-size="9.16" text-anchor="middle" fill="#4c4c4c" textLength="7.5" lengthAdjust="spacingAndGlyphs">or</text>
<text x="806.9" y="550.0" font-size="9.16" text-anchor="middle" fill="#4c4c4c" textLength="22.8" lengthAdjust="spacingAndGlyphs">VENT</text>
<text x="854.6" y="505.0" font-size="9.16" text-anchor="middle" fill="#4c4c4c" textLength="13.3" lengthAdjust="spacingAndGlyphs">1/6</text>
<text x="854.6" y="528.0" font-size="9.16" text-anchor="middle" fill="#4c4c4c" textLength="25.0" lengthAdjust="spacingAndGlyphs">FIXED</text>
<text x="854.6" y="539.0" font-size="9.16" text-anchor="middle" fill="#4c4c4c" textLength="7.5" lengthAdjust="spacingAndGlyphs">or</text>
<text x="854.6" y="550.0" font-size="9.16" text-anchor="middle" fill="#4c4c4c" textLength="22.8" lengthAdjust="spacingAndGlyphs">VENT</text>
<text x="902.0" y="500.0" font-size="9.16" text-anchor="middle" fill="#4c4c4c" textLength="13.3" lengthAdjust="spacingAndGlyphs">1/6</text>
<text x="902.0" y="523.0" font-size="9.16" text-anchor="middle" fill="#4c4c4c" textLength="25.0" lengthAdjust="spacingAndGlyphs">FIXED</text>
<text x="902.0" y="534.0" font-size="9.16" text-anchor="middle" fill="#4c4c4c" textLength="7.5" lengthAdjust="spacingAndGlyphs">or</text>
<text x="902.0" y="546.0" font-size="9.16" text-anchor="middle" fill="#4c4c4c" textLength="22.8" lengthAdjust="spacingAndGlyphs">VENT</text>
<text x="949.2" y="492.0" font-size="9.16" text-anchor="middle" fill="#4c4c4c" textLength="13.3" lengthAdjust="spacingAndGlyphs">1/6</text>
<text x="949.2" y="515.0" font-size="9.16" text-anchor="middle" fill="#4c4c4c" textLength="25.0" lengthAdjust="spacingAndGlyphs">FIXED</text>
<text x="949.2" y="526.0" font-size="9.16" text-anchor="middle" fill="#4c4c4c" textLength="7.5" lengthAdjust="spacingAndGlyphs">or</text>
<text x="949.2" y="538.0" font-size="9.16" text-anchor="middle" fill="#4c4c4c" textLength="22.8" lengthAdjust="spacingAndGlyphs">VENT</text>
</svg>
</body></html>
